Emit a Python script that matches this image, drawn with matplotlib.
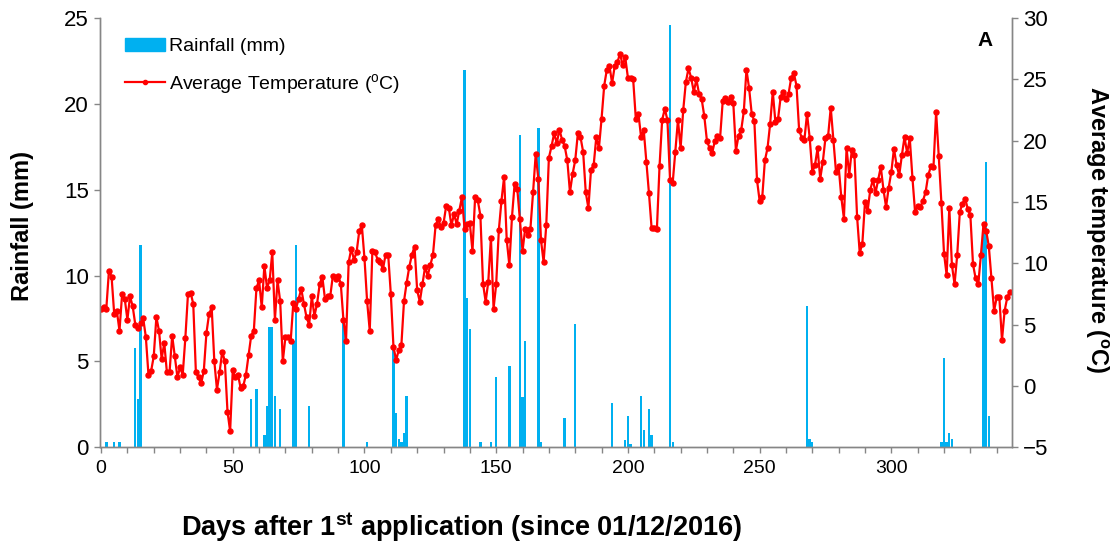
import matplotlib
matplotlib.use('Agg')
import matplotlib.pyplot as plt
from matplotlib.ticker import MultipleLocator
from matplotlib.patches import Patch
from matplotlib.lines import Line2D
import numpy as np

plt.rcParams['font.family'] = ['Liberation Sans', 'DejaVu Sans']
plt.rcParams['mathtext.fontset'] = 'custom'
plt.rcParams['mathtext.rm'] = 'Liberation Sans'
plt.rcParams['mathtext.bf'] = 'Liberation Sans:bold'
plt.rcParams['mathtext.it'] = 'Liberation Sans:italic'

# daily mean temperature (oC), day 0 .. 345
temp_0_59 = [6.3, 6.4, 6.3, 9.4, 8.9, 5.85, 6.1, 4.5, 7.5, 7.1,
             5.4, 7.3, 6.5, 5.0, 4.7, 5.1, 5.5, 4.0, 0.9, 1.2,
             2.4, 5.6, 4.5, 2.2, 3.5, 1.1, 1.1, 4.1, 2.4, 0.7,
             1.5, 0.9, 3.9, 7.5, 7.6, 6.7, 1.1, 0.7, 0.2, 1.2,
             4.3, 5.85, 6.4, 2.0, -0.3, 1.1, 2.8, 2.0, -2.1, -3.7,
             1.3, 0.7, 0.9, -0.2, 0.0, 0.9, 2.5, 4.1, 4.5, 8.0]
temp_60_116 = [8.6, 6.4, 9.8, 8.0, 8.6, 10.9, 5.4, 8.6, 6.9, 2.0,
               4.0, 4.0, 3.7, 6.8, 6.3, 7.1, 7.9, 6.7, 5.6, 5.0,
               7.3, 5.7, 6.7, 8.3, 8.9, 7.1, 7.3, 7.3, 9.0, 8.7,
               9.0, 8.35, 5.4, 3.7, 10.1, 11.2, 10.3, 10.9, 12.6, 13.1,
               10.4, 6.9, 4.5, 11.0, 10.9, 10.3, 10.1, 9.5, 10.7, 10.7,
               7.5, 3.2, 2.1, 2.9, 3.3, 6.9, 8.4]
temp_117_169 = [9.7, 10.7, 11.35, 7.8, 6.86, 8.3, 9.7, 9.0, 9.85, 10.7,
                13.1, 13.6, 13.0, 13.25, 14.66, 14.55, 13.1, 14.0, 13.2, 14.3,
                15.4, 12.8, 13.2, 13.25, 11.0, 15.4, 15.15, 13.9, 8.35, 6.86,
                8.5, 12.1, 6.3, 8.3, 12.7, 15.1, 17.05, 11.9, 9.85, 13.8,
                16.5, 16.1, 13.6, 11.0, 12.84, 12.3, 12.84, 15.8, 18.9, 16.9,
                11.9, 10.1, 13.1]
temp_170_229 = [18.6, 19.55, 20.6, 19.8, 20.9, 20.1, 19.55, 18.4, 15.8, 17.3,
                18.4, 20.6, 20.3, 19.1, 15.8, 14.5, 17.65, 18.0, 20.3, 19.4,
                21.8, 24.5, 25.8, 26.1, 24.7, 26.1, 26.4, 27.1, 26.2, 26.8,
                25.15, 25.15, 25.0, 21.8, 22.2, 20.3, 20.9, 18.3, 15.7, 12.85,
                12.85, 12.76, 17.9, 21.7, 22.6, 21.7, 16.8, 16.56, 19.1, 21.7,
                19.4, 22.5, 24.8, 25.9, 25.15, 24.0, 25.0, 23.85, 23.4, 22.0]
temp_230_281 = [20.0, 19.4, 19.0, 20.0, 20.4, 20.25, 23.25, 23.5, 23.2, 23.6,
                23.1, 19.2, 20.4, 20.85, 22.4, 25.8, 24.3, 22.2, 21.6, 16.8,
                15.1, 15.4, 18.4, 19.4, 21.4, 24.0, 21.5, 21.8, 23.6, 24.0,
                23.4, 23.85, 25.15, 25.5, 24.5, 20.85, 20.25, 20.1, 22.2, 20.25,
                17.45, 18.0, 19.4, 16.9, 18.3, 20.25, 20.4, 22.7, 20.1, 17.45,
                17.9, 15.4]
temp_282_345 = [13.65, 19.44, 17.19, 19.28, 18.82, 13.79, 10.85, 11.61, 15.01, 14.28,
                16.0, 16.83, 15.75, 16.83, 17.87, 16.02, 14.6, 16.18, 17.46, 19.36,
                18.0, 17.19, 18.82, 20.3, 19.0, 20.2, 17.0, 14.2, 14.66, 14.6,
                15.1, 15.8, 17.19, 17.9, 17.87, 22.35, 18.74, 14.93, 10.8, 9.03,
                14.55, 9.85, 8.3, 10.66, 14.2, 14.88, 15.28, 14.47, 13.92, 9.93,
                8.76, 8.3, 10.66, 13.24, 12.65, 11.4, 8.76, 6.12, 7.21, 7.21,
                3.73, 6.12, 7.21, 7.67]
temperature = temp_0_59 + temp_60_116 + temp_117_169 + temp_170_229 + temp_230_281 + temp_282_345
temp_days = np.arange(len(temperature))

# rainfall (mm), only the days it rained
rain_days = [2, 5, 7, 13, 14, 15, 57, 59, 62, 63, 64, 65, 66, 68, 73, 74, 79, 92,
             101, 111, 112, 113, 114, 115, 116, 138, 139, 140, 144, 148, 150, 155,
             159, 160, 161, 166, 167, 176, 180, 194, 199, 200, 201, 205, 206, 208,
             209, 216, 217, 268, 269, 270, 319, 320, 321, 322, 323, 335, 336, 337]
rain_mm = [0.3, 0.3, 0.3, 5.8, 2.8, 11.8, 2.8, 3.4, 0.7, 2.4, 7.0, 7.0, 3.0, 2.2, 6.2, 11.8, 2.4, 7.4,
           0.3, 5.8, 2.0, 0.5, 0.3, 0.8, 3.0, 22.0, 8.7, 6.9, 0.3, 0.3, 4.1, 4.7,
           18.2, 2.9, 6.2, 18.6, 0.3, 1.7, 7.2, 2.6, 0.4, 1.8, 0.2, 3.0, 1.0, 2.2,
           0.7, 24.6, 0.3, 8.2, 0.5, 0.3, 0.3, 5.2, 0.3, 0.8, 0.5, 12.5, 16.6, 1.8]

rain_ticks = [0, 5, 10, 15, 20, 25]
temp_ticks = [-5, 0, 5, 10, 15, 20, 25, 30]
day_ticks = [0, 50, 100, 150, 200, 250, 300]

BLUE = '#00B0F0'
RED = '#FF0000'
GREY = '#868686'

fig = plt.figure(figsize=(11.16, 5.52), dpi=100)
ax = fig.add_axes([0.0896, 0.19, 0.8172, 0.777])
ax2 = ax.twinx()

ax.bar(rain_days, rain_mm, width=0.9, color=BLUE, zorder=2)
ax2.plot(temp_days, temperature, color=RED, lw=1.6, marker='o', ms=3.6, mec=RED, mfc=RED)

ax.set_xlim(-0.4, 345.8)
ax.set_ylim(0, 25)
ax2.set_ylim(-5, 30)
ax.set_xticks(day_ticks)
ax.xaxis.set_minor_locator(MultipleLocator(10))
ax.set_yticks(rain_ticks)
ax2.set_yticks(temp_ticks)

# excel-ish axes: grey lines, no top border
for a in (ax, ax2):
    a.spines['top'].set_visible(False)
    for s in ('left', 'right', 'bottom'):
        a.spines[s].set_color(GREY)
        a.spines[s].set_linewidth(1.0)
    a.tick_params(which='both', direction='out', length=4, width=1, color=GREY)
ax.tick_params(axis='x', which='both', labelsize=14, pad=5)
ax.tick_params(axis='y', labelsize=16, pad=4)
ax2.tick_params(axis='y', labelsize=16, pad=4)

fig.text(0.020, 0.590, 'Rainfall (mm)', rotation=90, ha='center', va='center',
         fontsize=17, fontweight='bold')
fig.text(0.983, 0.583, r'Average temperature ($^{\mathbf{o}}$C)', rotation=270, ha='center', va='center',
         fontsize=17, fontweight='bold')
fig.text(0.414, 0.045, r'Days after 1$^{\mathbf{st}}$ application (since 01/12/2016)', ha='center', va='center',
         fontsize=19.5, fontweight='bold')
ax2.text(0.970, 0.949, 'A', transform=ax2.transAxes, ha='center', va='center', fontsize=15, fontweight='bold')

handles = [Patch(color=BLUE, label='Rainfall (mm)'),
           Line2D([], [], color=RED, lw=1.6, marker='o', ms=3, label=r'Average Temperature ($^{\mathrm{o}}$C)')]
ax2.legend(handles=handles, loc='upper left', bbox_to_anchor=(0.027, 0.955), frameon=False,
           fontsize=14, handlelength=2.1, handletextpad=0.2, labelspacing=0.85, borderpad=0,
           borderaxespad=0)

fig.savefig('out.png', dpi=100)
